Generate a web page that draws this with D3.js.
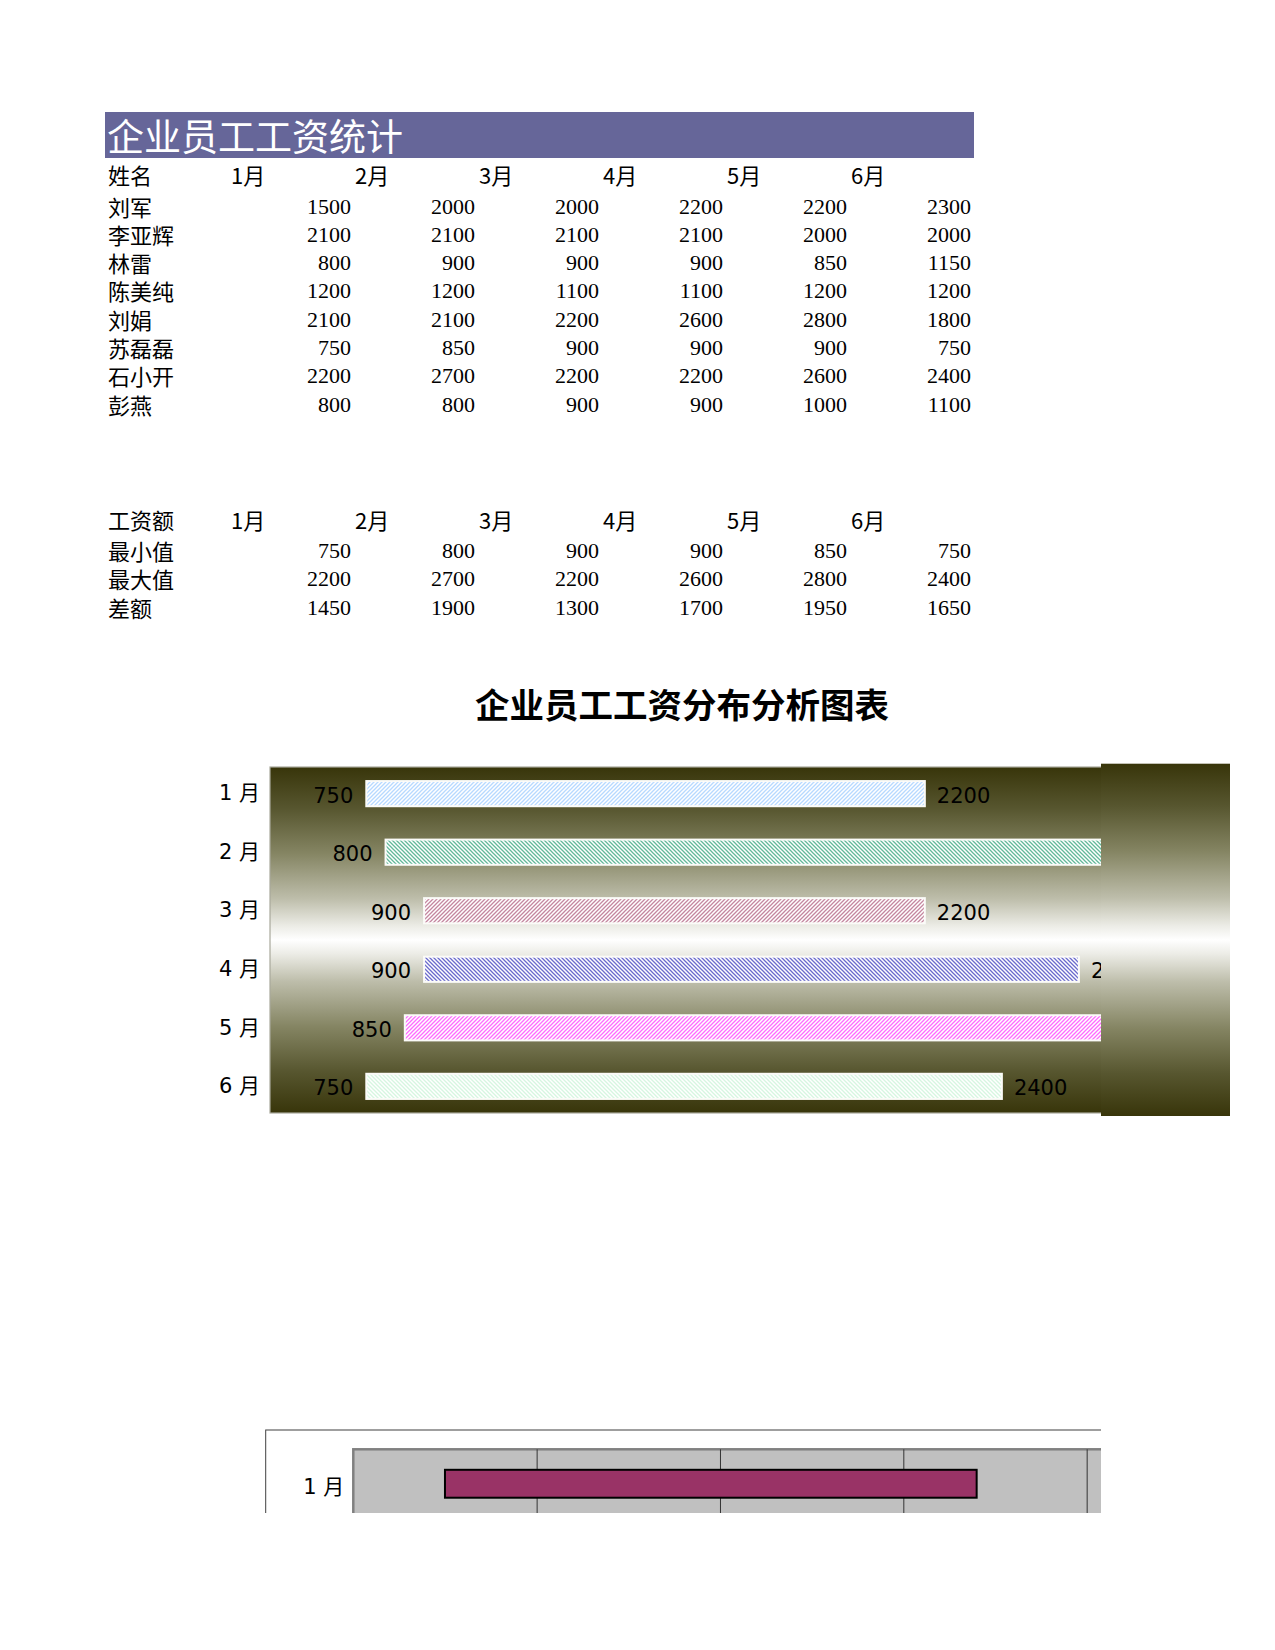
<!DOCTYPE html>
<html lang="zh">
<head>
<meta charset="utf-8">
<title>企业员工工资统计</title>
<script src="https://d3js.org/d3.v7.min.js"></script>
<style>
body { margin: 0; background: #fff; }
svg { display: block; }
.cjk { font-family: "Noto Sans CJK SC", sans-serif; }
.num { font-family: "Liberation Serif", serif; }
</style>
</head>
<body>
<div id="s"></div>
<script>
// ---- data ----
var months = ["1月", "2月", "3月", "4月", "5月", "6月"];
var monthTicks = ["1 月", "2 月", "3 月", "4 月", "5 月", "6 月"];
var names = ["刘军", "李亚辉", "林雷", "陈美纯", "刘娟", "苏磊磊", "石小开", "彭燕"];
var salary = [
    [1500, 2000, 2000, 2200, 2200, 2300],
    [2100, 2100, 2100, 2100, 2000, 2000],
    [800, 900, 900, 900, 850, 1150],
    [1200, 1200, 1100, 1100, 1200, 1200],
    [2100, 2100, 2200, 2600, 2800, 1800],
    [750, 850, 900, 900, 900, 750],
    [2200, 2700, 2200, 2200, 2600, 2400],
    [800, 800, 900, 900, 1000, 1100]
];
var summaryNames = ["最小值", "最大值", "差额"];
var minVals = [750, 800, 900, 900, 850, 750];
var maxVals = [2200, 2700, 2200, 2600, 2800, 2400];
var diffVals = [1450, 1900, 1300, 1700, 1950, 1650];
var barColors = ["#b6d9ff", "#62b899", "#c4869f", "#6a6acc", "#ff6bff", "#d6f6e0"];
var barDirs = ["/", "\\", "/", "\\", "/", "\\"];

var width = 1275, height = 1650;

const svg = d3.select("#s").append("svg")
    .attr("width", width)
    .attr("height", height);

svg.append("rect").attr("width", width).attr("height", height).attr("fill", "#fff");

var defs = svg.append("defs");

// ---- sheet table ----
var col = d3.scaleBand().domain(months).range([229, 973]);

svg.append("rect")
    .attr("x", 105).attr("y", 112)
    .attr("width", 869).attr("height", 46)
    .attr("fill", "#666699");
svg.append("text").attr("class", "cjk")
    .attr("x", 107).attr("y", 135)
    .attr("dominant-baseline", "central")
    .attr("font-size", 37).attr("fill", "#fff")
    .text("企业员工工资统计");

function table(top, rowGap, header, rowNames, rows) {
    var g = svg.append("g");
    g.append("text").attr("class", "cjk")
        .attr("x", 108).attr("y", top)
        .attr("dominant-baseline", "central").attr("font-size", 22)
        .text(header);
    g.selectAll(".mh").data(months).join("text")
        .attr("class", "cjk mh")
        .attr("x", d => col(d) + 2).attr("y", top)
        .attr("dominant-baseline", "central").attr("font-size", 22)
        .text(d => d);
    var y = d3.scaleLinear().domain([0, 1]).range([top + rowGap, top + rowGap + 28.3]);
    rowNames.forEach(function (n, i) {
        g.append("text").attr("class", "cjk")
            .attr("x", 108).attr("y", y(i))
            .attr("dominant-baseline", "central").attr("font-size", 22)
            .text(n);
        g.selectAll(".r" + i).data(rows[i]).join("text")
            .attr("class", "num r" + i)
            .attr("x", (d, j) => col(months[j]) + col.bandwidth() - 2)
            .attr("y", y(i) + 0.5)
            .attr("text-anchor", "end")
            .attr("dominant-baseline", "central").attr("font-size", 22)
            .text(d => d);
    });
}
table(174, 31.5, "姓名", names, salary);
table(518.5, 31.5, "工资额", summaryNames, [minVals, maxVals, diffVals]);

// ---- main chart ----
svg.append("text").attr("class", "cjk")
    .attr("x", 682).attr("y", 703)
    .attr("text-anchor", "middle").attr("dominant-baseline", "central")
    .attr("font-size", 34.5).attr("font-weight", 700)
    .text("企业员工工资分布分析图表");

var grad = defs.append("linearGradient").attr("id", "bg")
    .attr("x1", 0).attr("y1", 0).attr("x2", 0).attr("y2", 1);
[[0, "#38350a"], [0.12, "#57562f"], [0.25, "#858563"], [0.38, "#bdbdaa"],
 [0.46, "#ecece6"], [0.5, "#ffffff"], [0.54, "#ecece6"], [0.62, "#bdbdaa"],
 [0.75, "#858563"], [0.88, "#57562f"], [1, "#38350a"]].forEach(function (s) {
    grad.append("stop").attr("offset", s[0]).attr("stop-color", s[1]);
});

barColors.forEach(function (c, i) {
    var s = 4;
    var p = defs.append("pattern").attr("id", "hatch" + i)
        .attr("patternUnits", "userSpaceOnUse")
        .attr("width", s).attr("height", s);
    p.append("rect").attr("width", s).attr("height", s).attr("fill", "#fff");
    var d = barDirs[i] === "/"
        ? `M0,${s} L${s},0 M${-s / 2},${s / 2} L${s / 2},${-s / 2} M${s / 2},${s * 1.5} L${s * 1.5},${s / 2}`
        : `M0,0 L${s},${s} M${-s / 2},${s / 2} L${s / 2},${s * 1.5} M${s / 2},${-s / 2} L${s * 1.5},${s / 2}`;
    p.append("path").attr("d", d).attr("stroke", c).attr("stroke-width", 1.3);
});

defs.append("clipPath").attr("id", "clipMain")
    .append("rect").attr("x", 0).attr("y", 0).attr("width", 1101).attr("height", 1300);

var x = d3.scaleLinear().domain([500, 3000]).range([270, 1233]);
var y = d3.scaleBand().domain(months).range([767, 1113])
    .paddingInner(0.57).paddingOuter(0.24);

// the background spills out to the right of the clipped plot area
svg.append("rect")
    .attr("x", 1101).attr("y", 763.7)
    .attr("width", 129).attr("height", 352.3)
    .attr("fill", "url(#bg)");

var plot = svg.append("g").attr("clip-path", "url(#clipMain)");
plot.append("rect")
    .attr("x", 270).attr("y", 767)
    .attr("width", 963).attr("height", 346)
    .attr("fill", "url(#bg)")
    .attr("stroke", "#a9a99c").attr("stroke-width", 1.2);

plot.selectAll(".bar").data(months).join("rect")
    .attr("class", "bar")
    .attr("x", (d, i) => x(minVals[i]))
    .attr("y", d => y(d))
    .attr("width", (d, i) => x(maxVals[i]) - x(minVals[i]))
    .attr("height", y.bandwidth())
    .attr("fill", (d, i) => "url(#hatch" + i + ")")
    .attr("stroke", "#fbfbf8").attr("stroke-width", 2);

plot.selectAll(".lo").data(months).join("text")
    .attr("class", "lo")
    .attr("x", (d, i) => x(minVals[i]) - 13)
    .attr("y", d => y(d) + y.bandwidth() / 2 + 2)
    .attr("text-anchor", "end").attr("dominant-baseline", "central")
    .attr("font-family", "DejaVu Sans").attr("font-size", 21)
    .text((d, i) => minVals[i]);

plot.selectAll(".hi").data(months).join("text")
    .attr("class", "hi")
    .attr("x", (d, i) => x(maxVals[i]) + 12)
    .attr("y", d => y(d) + y.bandwidth() / 2 + 2)
    .attr("dominant-baseline", "central")
    .attr("font-family", "DejaVu Sans").attr("font-size", 21)
    .text((d, i) => maxVals[i]);

var yAxis = svg.append("g")
    .attr("transform", "translate(270,0)")
    .call(d3.axisLeft(y).tickSize(0).tickPadding(10)
        .tickFormat((d, i) => monthTicks[i]));
yAxis.select(".domain").remove();
yAxis.selectAll("text")
    .attr("font-family", "DejaVu Sans, Noto Sans CJK SC")
    .attr("font-size", 21).attr("fill", "#000");

// ---- second chart, cut off by the page edge ----
var clipBottom = 1513;
defs.append("clipPath").attr("id", "clip2")
    .append("rect").attr("x", 0).attr("y", 1400).attr("width", 1101).attr("height", clipBottom - 1400);

var x2 = d3.scaleLinear().domain([500, 3000]).range([353.3, 1270]);
var y2 = d3.scaleBand().domain(months).range([1449.3, 1803])
    .paddingInner(0.51).paddingOuter(0.36);

var c2 = svg.append("g").attr("clip-path", "url(#clip2)");
c2.append("rect")
    .attr("x", 265.7).attr("y", 1430)
    .attr("width", 1100).attr("height", 400)
    .attr("fill", "#fff").attr("stroke", "#404040").attr("stroke-width", 1);
c2.append("rect")
    .attr("x", 353.3).attr("y", 1449.3)
    .attr("width", 920).attr("height", 360)
    .attr("fill", "#c0c0c0").attr("stroke", "#808080").attr("stroke-width", 2.5);

c2.append("g")
    .attr("transform", "translate(0,1449.3)")
    .call(d3.axisBottom(x2).tickValues([1000, 1500, 2000, 2500, 3000])
        .tickSize(360).tickFormat(""))
    .call(g => g.select(".domain").remove())
    .selectAll("line").attr("stroke", "#333").attr("stroke-width", 1);

c2.selectAll(".bar2").data(months).join("rect")
    .attr("class", "bar2")
    .attr("x", (d, i) => x2(minVals[i]))
    .attr("y", d => y2(d))
    .attr("width", (d, i) => x2(maxVals[i]) - x2(minVals[i]))
    .attr("height", y2.bandwidth())
    .attr("fill", "#993366").attr("stroke", "#000").attr("stroke-width", 2);

// only the rows above the page edge get a label
var y2Axis = c2.append("g")
    .attr("transform", "translate(353.3,4)")
    .call(d3.axisLeft(y2).tickSize(0).tickPadding(9)
        .tickValues(months.filter(d => y2(d) < clipBottom))
        .tickFormat((d, i) => monthTicks[i]));
y2Axis.select(".domain").remove();
y2Axis.selectAll("text")
    .attr("font-family", "DejaVu Sans, Noto Sans CJK SC")
    .attr("font-size", 21).attr("fill", "#000");
</script>
</body>
</html>
